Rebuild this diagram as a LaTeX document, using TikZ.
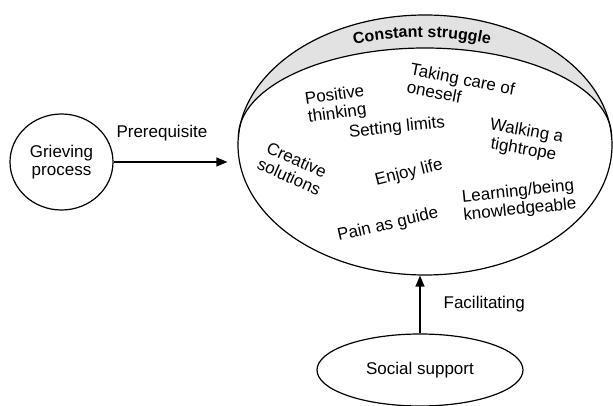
\documentclass[tikz,border=0pt]{standalone}
\usepackage{fontspec}
\setmainfont{Liberation Sans}
\usetikzlibrary{shapes.geometric,arrows.meta,decorations.text}
\definecolor{lidgray}{RGB}{226,226,226}
\begin{document}
\begin{tikzpicture}[x=1pt,y=1pt,
  every node/.style={font=\fontsize{17}{18.5}\selectfont, inner sep=0pt},
  bubble/.style={draw, line width=1.2pt, ellipse},
  arr/.style={line width=1.3pt, -{Triangle[length=11pt,width=9pt]}},
  theme/.style={align=center}]
\useasboundingbox (0,0) rectangle (613,-406);

% bowl: grey lid between the outer rim and the inner arc
\fill[lidgray] (425,-145) ellipse [x radius=187pt, y radius=130pt];
\fill[white] (238.4,-137) arc[start angle=180, end angle=0, x radius=186.6pt, y radius=89pt]
  arc[start angle=3.53, end angle=-183.53, x radius=187pt, y radius=130pt] -- cycle;
\draw[line width=1.2pt] (238.4,-137) arc[start angle=180, end angle=0, x radius=186.6pt, y radius=89pt];
\node[bubble, minimum width=374pt, minimum height=260pt] (bowl) at (425,-145) {};

% curved title on the lid
\path[decorate, decoration={text along path, text align=center,
  text={|\bfseries\fontsize{16}{16}\selectfont|Constant struggle}}]
  (422,-347) ++(105:310pt) arc[start angle=105, end angle=75, radius=310pt];

% themes inside the bowl
\node[theme, rotate=8]   (pos)   at (336,-105) {Positive\\thinking};
\node[align=left, rotate=-11] (care) at (461,-88) {Taking care of\\oneself};
\node[theme, rotate=6]   (lim)   at (397,-128) {Setting limits};
\node[theme, rotate=-10] (walk)  at (525,-141) {Walking a\\tightrope};
\node[theme, rotate=-24] (crea)  at (293,-168) {Creative\\solutions};
\node[theme, rotate=14]  (enjoy) at (409,-173) {Enjoy life};
\node[theme, rotate=6]   (learn) at (519,-201) {Learning/being\\knowledgeable};
\node[theme, rotate=13]  (pain)  at (388,-225) {Pain as guide};

% outer concepts
\node[bubble, align=center, minimum width=103pt, minimum height=96pt] (grief) at (61.5,-162) {Grieving\\process};
\node[bubble, minimum width=206pt, minimum height=72pt] (social) at (420,-370) {Social support};

% connectors
\draw[arr, shorten >=10pt] (grief.east) -- (grief.east -| bowl.west)
  node[pos=0.39, above=20pt] (pre) {Prerequisite};
\draw[arr] (social.north) -- (social.north |- bowl.south)
  node[midway, right=23pt] (fac) {Facilitating};
\end{tikzpicture}
\end{document}
